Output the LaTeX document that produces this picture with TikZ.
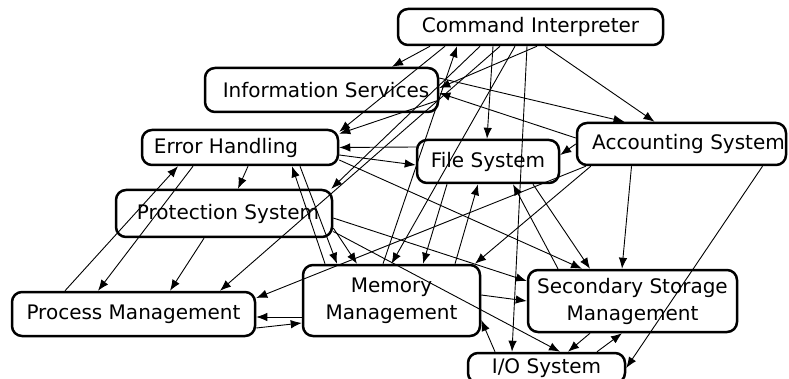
\documentclass[tikz,border=0pt]{standalone}
\usepackage{fontspec}
\setmainfont{DejaVu Sans}
\usetikzlibrary{calc}
\usetikzlibrary{arrows.meta}
\tikzset{every node/.style={font=\fontsize{20}{27}\selectfont}}

\begin{document}
\begin{tikzpicture}[>={Latex[length=11pt,width=8.5pt]}, x=1pt, y=-1pt, line width=0.9pt,
    box/.style={draw, line width=2.5pt, rounded corners=10pt, align=center, inner sep=0pt}]
    \useasboundingbox (0,0) rectangle (789,379);

    % the parts of the system
    \node [box, minimum width=265pt, minimum height=36pt] (ci) at (530.5,27) {Command Interpreter};
    \node [box, minimum width=233pt, minimum height=44pt] (is) at (321.5,90) {\hspace*{9pt}Information Services};
    \node [box, minimum width=196pt, minimum height=35pt] (eh) at (240,147.5) {Error Handling\hspace*{28pt}};
    \node [box, minimum width=216pt, minimum height=47pt] (ps) at (224,213.5) {\hspace*{8pt}Protection System};
    \node [box, minimum width=142pt, minimum height=43pt] (fs) at (488,161.5) {File System};
    \node [box, minimum width=209pt, minimum height=42pt] (as) at (681.5,144) {\hspace*{14pt}Accounting System};
    \node [box, minimum width=243pt, minimum height=44pt] (pm) at (133.5,314) {Process Management};
    \node [box, minimum width=177pt, minimum height=71pt] (mm) at (391.5,300.5) {Memory\\Management};
    \node [box, minimum width=209pt, minimum height=62pt] (ssm) at (632.5,301) {Secondary Storage\\Management};
    \node [box, minimum width=157pt, minimum height=30pt] (io) at (546.5,368) {I/O System};

    % command interpreter
    \draw [->] ([xshift=-100.5pt]ci.south) -- ([xshift=70.5pt]is.north);
    \draw [->] ([xshift=6.5pt]ci.south) -- ([yshift=2pt]is.east);
    \draw [->] ([xshift=14.5pt]ci.south) -- ([xshift=-27pt]as.north);
    \draw [->] ([xshift=-37.5pt]ci.south) -- ([xshift=-1pt]fs.north);
    \draw [->] ([xshift=-3.5pt]ci.south) -- ([xshift=-34.5pt]io.north);
    \draw [->] ([xshift=-85.5pt]ci.south) -- ([yshift=-3pt]eh.north east);
    \draw [->] ([xshift=-50.5pt]ci.south) -- ([xshift=-2pt]ps.north east);
    \draw [->] ([xshift=-30.5pt]ci.south) -- ([xshift=86.5pt]pm.north);
    \draw [->] ([xshift=-15.5pt]ci.south) -- (mm.north);
    \draw [->] ([xshift=-8.5pt]mm.north) -- ([xshift=-73.5pt]ci.south);

    % information services and accounting
    \draw [->] ([yshift=12pt]is.east) -- ([xshift=-57pt]as.north);
    \draw [->] ([yshift=6pt]as.west) -- ([yshift=-3pt]is.east);
    \draw [->] ([yshift=-10pt]is.east) -- ([yshift=-5pt]eh.north east);

    % error handling
    \draw [->] ([yshift=14.5pt]fs.west) -- (eh.east);
    \draw [->] ([yshift=-7.5pt]eh.east) -- ([yshift=-3.5pt]fs.west);
    \draw [->] ([xshift=8pt]eh.south) -- ([xshift=14pt]ps.north);
    \draw [->] ([xshift=-68.5pt]pm.north) -- ([xshift=-62pt]eh.south);
    \draw [->] ([xshift=-47pt]eh.south) -- ([xshift=-35.5pt]pm.north);
    \draw [->] ([xshift=60pt]eh.south) -- ([xshift=-54.5pt]mm.north);
    \draw [->] ([xshift=-66.5pt]mm.north) -- ([xshift=52pt]eh.south);
    \draw [->] ([yshift=-12.5pt]eh.east) -- ([xshift=-50.5pt]ssm.north);

    % protection system
    \draw [->] ([xshift=-20pt]ps.south) -- ([xshift=36.5pt]pm.north);
    \draw [->] ([yshift=-14.5pt]ps.east) -- ([xshift=-34.5pt]mm.north);
    \draw [->] ([yshift=-4.5pt]ps.east) -- ([yshift=20pt]ssm.west);
    \draw [->] ([yshift=-18pt]ps.east) -- ([xshift=13.5pt]io.north);

    % file system
    \draw [->] ([yshift=0pt]as.west) -- ([yshift=6.5pt]fs.east);
    \draw [->] ([xshift=-41pt]fs.south) -- ([xshift=31.5pt]mm.north);
    \draw [->] ([xshift=63.5pt]mm.north) -- ([xshift=-10pt]fs.south);
    \draw [->] ([xshift=45pt]fs.south) -- ([xshift=-42.5pt]ssm.north);
    \draw [->] ([xshift=-74.5pt]ssm.north) -- ([xshift=25pt]fs.south);

    % accounting system
    \draw [->] ([xshift=10pt]as.south west) -- ([yshift=16pt]pm.east);
    \draw [->] ([xshift=15pt]as.south west) -- ([xshift=83.5pt]mm.north);
    \draw [->] ([xshift=-50pt]as.south) -- ([xshift=-10.5pt]ssm.north);
    \draw [->] ([xshift=81pt]as.south) -- (io.east);

    % memory, storage and i/o
    \draw [->] ([yshift=-16.5pt]mm.west) -- ([yshift=-3pt]pm.east);
    \draw [->] ([yshift=-14pt]pm.east) -- ([yshift=-22.5pt]mm.west);
    \draw [->] ([yshift=5.5pt]mm.east) -- (ssm.west);
    \draw [->] ([xshift=-51.5pt]io.north) -- ([yshift=-19.5pt]mm.east);
    \draw [->] ([xshift=-42.5pt]ssm.south) -- ([xshift=21.5pt]io.north);
    \draw [->] ([xshift=50.5pt]io.north) -- ([xshift=-10.5pt]ssm.south);
\end{tikzpicture}
\end{document}
